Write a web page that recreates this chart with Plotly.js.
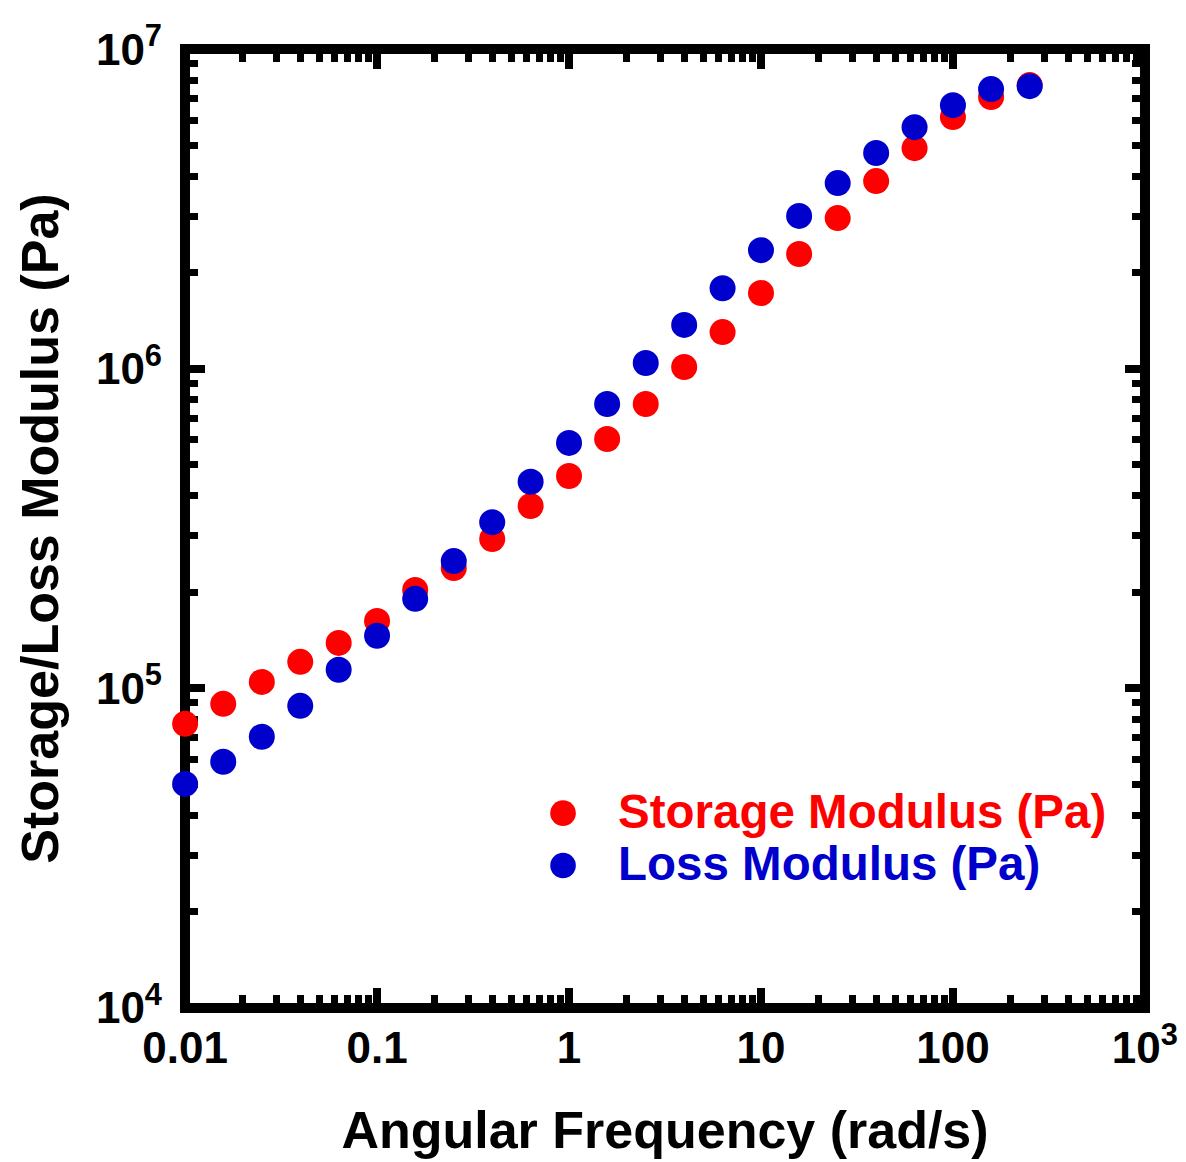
<!DOCTYPE html>
<html>
<head>
<meta charset="utf-8">
<script src="https://cdn.plot.ly/plotly-3.0.1.min.js"></script>
<style>html,body{margin:0;padding:0;background:#fff;}</style>
</head>
<body>
<div id="chart" style="width:1186px;height:1162px;"></div>
<script>
// Angular frequency (rad/s)
const frequency = [0.01, 0.0158, 0.0251, 0.0398, 0.0631, 0.1, 0.158, 0.251, 0.398, 0.631,
                   1, 1.58, 2.51, 3.98, 6.31, 10, 15.8, 25.1, 39.8, 63.1, 100, 158, 251];
// Storage modulus G' (Pa)
const storageModulus = [77400, 89400, 104700, 121000, 138700, 162500, 203100, 238000, 293300, 372000,
                        461700, 602700, 775500, 1012000, 1302000, 1725000, 2285000, 2960000, 3865000,
                        4900000, 6130000, 7078000, 7719000];
// Loss modulus G'' (Pa)
const lossModulus = [50200, 58870, 70500, 88100, 114300, 146000, 190500, 250000, 331000, 443000,
                     586000, 775500, 1042000, 1371000, 1786000, 2350000, 3007000, 3809000, 4730000,
                     5700000, 6680000, 7500000, 7660000];

const seriesNames = ['Storage Modulus (Pa)', 'Loss Modulus (Pa)'];
const seriesColors = ['#FF0000', '#0000CC'];

const xTickVals = [0.01, 0.1, 1, 10, 100, 1000];
const xTickText = ['0.01', '0.1', '1', '10', '100', '10<sup>3</sup>'];
const yTickVals = [1e4, 1e5, 1e6, 1e7];
const yTickText = ['10<sup>4</sup>', '10<sup>5</sup>', '10<sup>6</sup>', '10<sup>7</sup>'];

const FONT = 'Liberation Sans, Arial, Helvetica, sans-serif';

function legendName(i) {
  return '<span style="color:' + seriesColors[i] + ';font-size:47.5px">' + seriesNames[i] + '</span>';
}

const traces = [
  {x: frequency, y: storageModulus, name: legendName(0), type: 'scatter', mode: 'markers',
   marker: {color: seriesColors[0], size: 26, line: {width: 0}}, cliponaxis: false},
  {x: frequency, y: lossModulus, name: legendName(1), type: 'scatter', mode: 'markers',
   marker: {color: seriesColors[1], size: 26, line: {width: 0}}, cliponaxis: false}
];

const axisCommon = {
  type: 'log',
  showgrid: false, zeroline: false, showline: false,
  ticks: 'inside', ticklen: 20, tickwidth: 8, tickcolor: '#000',
  mirror: 'ticks', layer: 'below traces',
  tickmode: 'array',
  tickfont: {family: FONT, size: 44, color: '#000', weight: 'bold'},
  minor: {ticks: 'inside', ticklen: 13, tickwidth: 7, tickcolor: '#000', dtick: 'D1', showgrid: false}
};

const layout = {
  width: 1186, height: 1162,
  margin: {l: 185, r: 41, t: 49, b: 154, pad: 0},
  paper_bgcolor: '#fff', plot_bgcolor: '#fff',
  showlegend: true,
  legend: {x: 0.3365, y: 0.2357, xanchor: 'left', yanchor: 'top', bgcolor: 'rgba(0,0,0,0)',
           font: {family: FONT, size: 38, weight: 'bold'}, itemwidth: 100, tracegroupgap: 0},
  xaxis: Object.assign({}, axisCommon, {
    range: [-2.0005, 3.0005], tickvals: xTickVals, ticktext: xTickText,
    ticklabelstandoff: 10,
    title: {text: 'Angular Frequency (rad/s)', font: {family: FONT, size: 52, color: '#000', weight: 'bold'}, standoff: 40}
  }),
  yaxis: Object.assign({}, axisCommon, {
    range: [3.9995, 7.0005], tickvals: yTickVals, ticktext: yTickText,
    ticklabelstandoff: 22,
    title: {text: 'Storage/Loss Modulus (Pa)', font: {family: FONT, size: 52, color: '#000', weight: 'bold'}, standoff: 20}
  }),
  shapes: [{type: 'rect', xref: 'paper', yref: 'paper', x0: 0, x1: 1, y0: 0, y1: 1,
            line: {color: '#000', width: 10}, layer: 'below'}]
};

Plotly.newPlot('chart', traces, layout, {staticPlot: true, displayModeBar: false}).then(function (gd) {
  // enlarge legend symbols to match the plotted marker size
  document.querySelectorAll('.legend .legendpoints path.scatterpts').forEach(function (p) {
    const t = p.getAttribute('transform') || '';
    p.setAttribute('transform', t + ' scale(1.6)');
  });
});
</script>
</body>
</html>
